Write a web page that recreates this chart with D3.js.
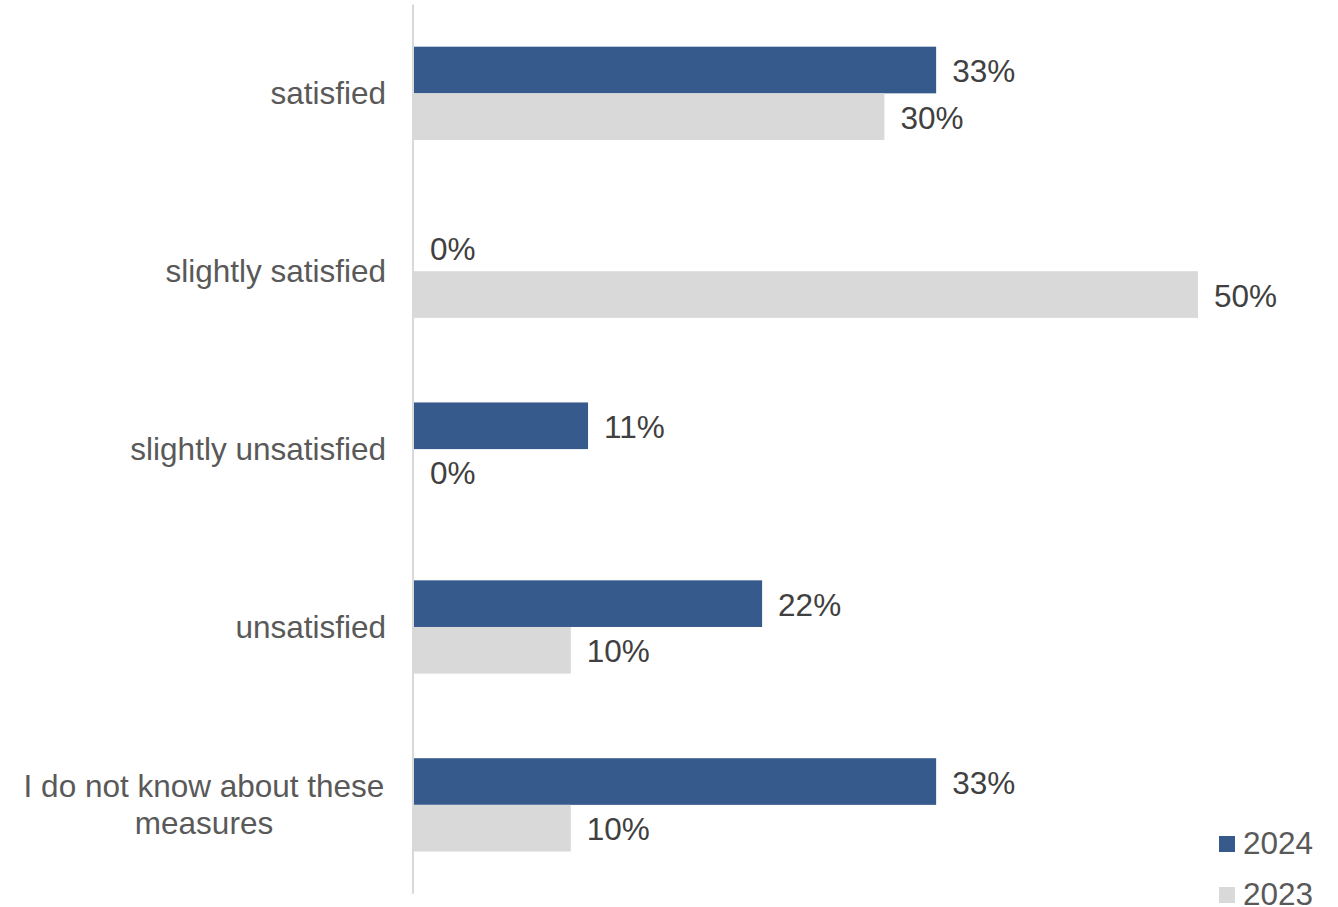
<!DOCTYPE html>
<html>
<head>
<meta charset="utf-8">
<script src="https://cdn.jsdelivr.net/npm/d3@7"></script>
<style>
  html, body { margin: 0; padding: 0; background: #fff; }
  svg { display: block; font-family: "Liberation Sans", Arial, sans-serif; }
</style>
</head>
<body>
<svg id="chart" width="1338" height="907"></svg>
<script>
const categories = [
  ["satisfied"],
  ["slightly satisfied"],
  ["slightly unsatisfied"],
  ["unsatisfied"],
  ["I do not know about these", "measures"]
];
const seriesNames = ["2024", "2023"];
const values2024 = [33.3, 0, 11.1, 22.2, 33.3];
const values2023 = [30, 50, 0, 10, 10];
const colors = ["#365a8c", "#d9d9d9"];

const series = [values2024, values2023];
const svg = d3.select("#chart");

const x = d3.scaleLinear().domain([0, 50]).range([414, 1198]);
const y = d3.scaleBand().domain(d3.range(categories.length)).range([4.4, 893.8]).paddingInner(0).paddingOuter(0);
const groupH = 93.3;
const inner = d3.scaleBand().domain(d3.range(series.length)).range([0, groupH]);

// bars
series.forEach((vals, si) => {
  svg.append("g").selectAll("rect").data(vals).join("rect")
    .attr("x", x(0))
    .attr("y", (d, i) => y(i) + (y.bandwidth() - groupH) / 2 + inner(si))
    .attr("width", d => x(d) - x(0))
    .attr("height", inner.bandwidth())
    .attr("fill", colors[si]);
  svg.append("g").selectAll("text").data(vals).join("text")
    .attr("x", d => x(d) + 16)
    .attr("y", (d, i) => y(i) + (y.bandwidth() - groupH) / 2 + inner(si) + inner.bandwidth() / 2)
    .attr("dy", "0.38em")
    .attr("font-size", 31.5)
    .attr("fill", "#404040")
    .text(d => Math.round(d) + "%");
});

// axis line
svg.append("line")
  .attr("x1", 413).attr("x2", 413)
  .attr("y1", y.range()[0]).attr("y2", y.range()[1])
  .attr("stroke", "#d9d9d9").attr("stroke-width", 2);

// category labels
const lineH = 37;
categories.forEach((lines, i) => {
  const cy = y(i) + y.bandwidth() / 2;
  const t = svg.append("text")
    .attr("font-size", 31.5)
    .attr("fill", "#595959");
  if (lines.length === 1) {
    t.attr("x", 386).attr("y", cy).attr("dy", "0.35em").attr("text-anchor", "end").text(lines[0]);
  } else {
    const center = 204;
    lines.forEach((ln, k) => {
      t.append("tspan")
        .attr("x", center)
        .attr("y", cy + (k - (lines.length - 1) / 2) * lineH)
        .attr("dy", "0.35em")
        .attr("text-anchor", "middle")
        .text(ln);
    });
  }
});

// legend
seriesNames.forEach((name, si) => {
  const ly = 836 + si * 51;
  svg.append("rect").attr("x", 1219).attr("y", ly).attr("width", 16).attr("height", 16).attr("fill", colors[si]);
  svg.append("text").attr("x", 1243).attr("y", ly + 8).attr("dy", "0.33em")
    .attr("font-size", 31.5).attr("fill", "#595959").text(name);
});
</script>
</body>
</html>
